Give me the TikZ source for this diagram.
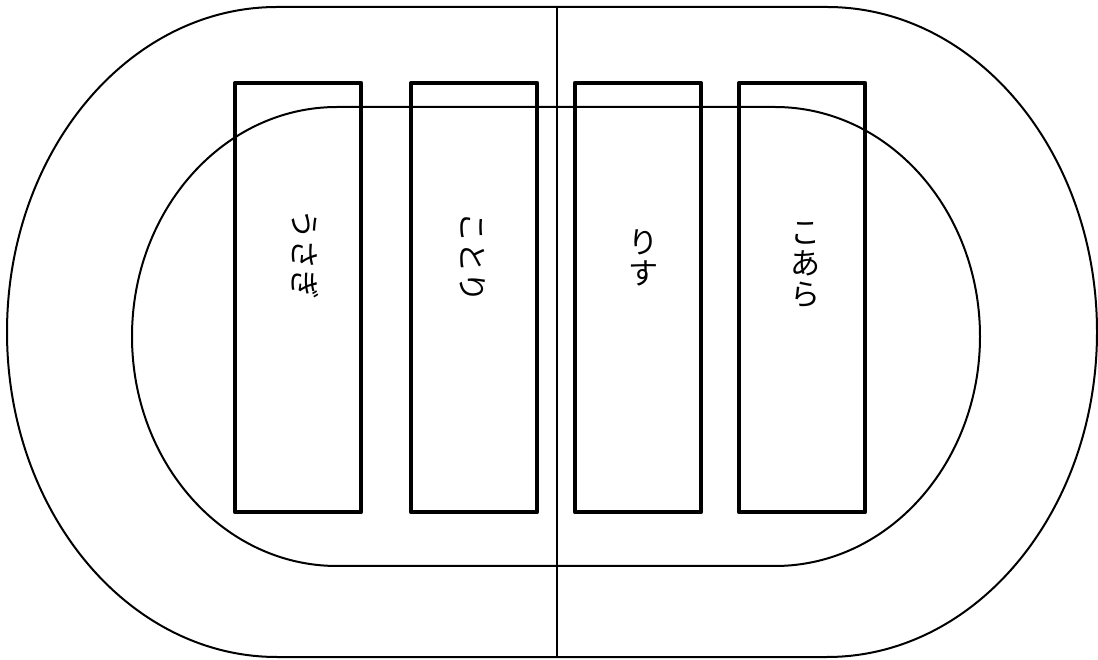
\documentclass[tikz,border=0pt]{standalone}
\usepackage{fontspec}
\usepackage{tikz}
\usetikzlibrary{calc}
\usetikzlibrary{positioning}
\newfontfamily\jp{Noto Sans CJK JP}

\begin{document}
\begin{tikzpicture}[x=0.5pt,y=0.5pt,-,semithick]
 				 \tikzstyle{track}=[draw, line width=1pt]
 				 \tikzstyle{lane}=[draw, rectangle, line width=2.3pt, line join=round, minimum width=63pt, minimum height=214.5pt, inner sep=0pt]
 				 \tikzstyle{word}=[font=\jp\fontsize{15}{15.5}\selectfont, inner sep=0pt, align=center]
						\useasboundingbox (0,0) rectangle (1098,659);
						% outer and inner track
						\draw[track] (277,652) -- (827,652) arc[start angle=90, end angle=-90, x radius=270, y radius=325]
							-- (277,2) arc[start angle=270, end angle=90, x radius=270, y radius=325] -- cycle;
						\draw[track] (337,552) -- (775,552) arc[start angle=90, end angle=-90, x radius=205, y radius=229.5]
							-- (337,93) arc[start angle=270, end angle=90, x radius=205, y radius=229.5] -- cycle;
						\coordinate (top) at (557,652);
						\coordinate (bot) at (557,2);
						\draw[track] (top) -- (bot);

						\node[lane] (A) at (298,361.5) {};
						\node[lane] (B) at (474,361.5) {};
						\node[lane] (C) at (638,361.5) {};
						\node[lane] (D) at (802,361.5) {};

						\node[word, rotate=-90] (usagi) at (305,404) {うさぎ};
						\node[word, rotate=-90] (kotori) at (473,401) {ことり};
						\node[word] (risu) at (643,401.5) {り\\す};
						\node[word] (koara) at (805,394) {こ\\あ\\ら};
 				\end{tikzpicture}
\end{document}
